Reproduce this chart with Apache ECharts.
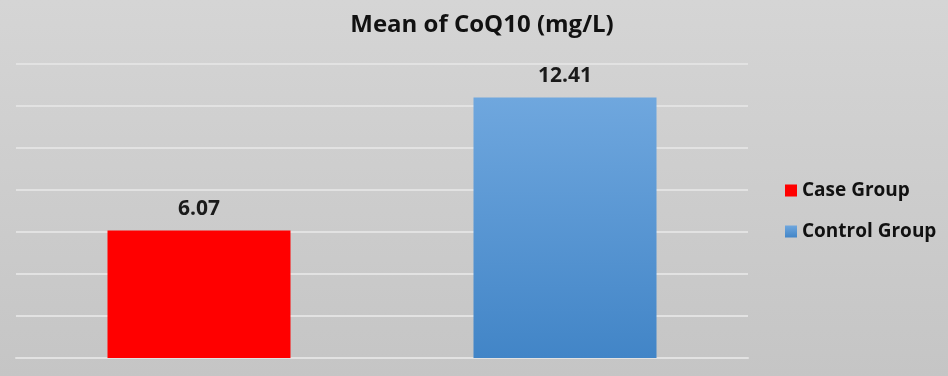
<!DOCTYPE html>
<html>
<head>
<meta charset="utf-8">
<script src="https://cdn.jsdelivr.net/npm/echarts@6/dist/echarts.min.js"></script>
<style>
  html, body { margin: 0; padding: 0; }
  #chart {
    width: 948px; height: 376px;
    background: linear-gradient(to bottom, #d5d5d5, #c5c5c5);
  }
</style>
</head>
<body>
<div id="chart"></div>
<script>
const categories = ['Case Group', 'Control Group'];
const caseValues = [6.07, null];
const controlValues = [null, 12.41];
const yTicks = { min: 0, max: 14, interval: 2 };

const chart = echarts.init(document.getElementById('chart'));

const labelStyle = {
  show: true,
  position: 'top',
  distance: 11,
  fontFamily: 'Open Sans',
  fontWeight: 'bold',
  fontSize: 21,
  color: '#1a1a1a'
};

chart.setOption({
  backgroundColor: 'transparent',
  textStyle: { fontFamily: 'Open Sans' },
  title: {
    text: 'Mean of CoQ10 (mg/L)',
    left: 477,
    top: 8,
    textAlign: 'center',
    textStyle: { fontFamily: 'Open Sans', fontWeight: 'bold', fontSize: 24, color: '#111' }
  },
  legend: {
    orient: 'vertical',
    left: 780,
    top: 176,
    itemWidth: 12,
    itemHeight: 12,
    itemGap: 22,
    icon: 'rect',
    textStyle: { fontFamily: 'Open Sans', fontWeight: 'bold', fontSize: 19, color: '#111' },
    data: categories
  },
  grid: { left: 16, right: 200, top: 64, bottom: 18 },
  xAxis: {
    type: 'category',
    data: categories,
    axisLine: { show: true, lineStyle: { color: '#e2e2e2', width: 2 } },
    axisTick: { show: false },
    axisLabel: { show: false }
  },
  yAxis: {
    type: 'value',
    min: yTicks.min,
    max: yTicks.max,
    interval: yTicks.interval,
    axisLine: { show: false },
    axisTick: { show: false },
    axisLabel: { show: false },
    splitLine: { lineStyle: { color: '#e2e2e2', width: 2 } }
  },
  series: [
    {
      name: 'Case Group',
      type: 'bar',
      stack: 'g',
      barWidth: '50%',
      data: caseValues,
      itemStyle: { color: '#ff0000' },
      label: labelStyle
    },
    {
      name: 'Control Group',
      type: 'bar',
      stack: 'g',
      barWidth: '50%',
      data: controlValues,
      itemStyle: {
        color: new echarts.graphic.LinearGradient(0, 0, 0, 1, [
          { offset: 0, color: '#6fa7de' },
          { offset: 1, color: '#4285c7' }
        ])
      },
      label: labelStyle
    }
  ]
});
</script>
</body>
</html>
